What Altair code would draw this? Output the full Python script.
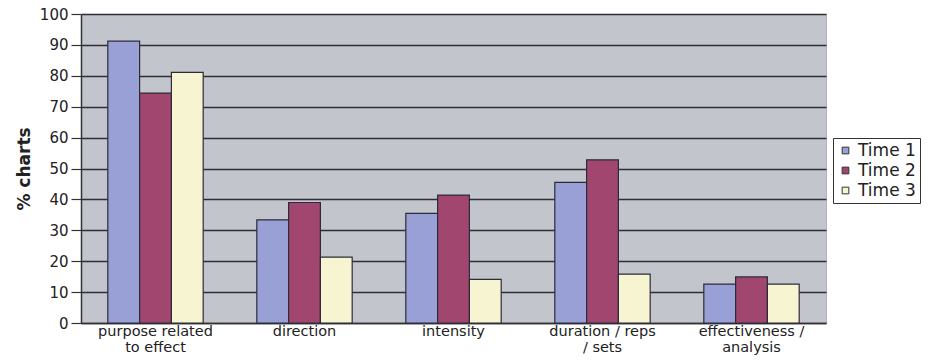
import altair as alt
import pandas as pd

categories = ["purpose related\nto effect", "direction", "intensity",
              "duration / reps\n/ sets", "effectiveness /\nanalysis"]
series = ["Time 1", "Time 2", "Time 3"]
time1 = [91.2, 33.4, 35.5, 45.5, 12.6]
time2 = [74.4, 39.0, 41.4, 52.8, 14.9]
time3 = [81.1, 21.3, 14.1, 15.8, 12.6]
colors = ["#98a0d5", "#a0466f", "#f7f4d2"]
y_ticks = [0, 10, 20, 30, 40, 50, 60, 70, 80, 90, 100]

rows = []
for cat, a, b, c in zip(categories, time1, time2, time3):
    for s, v in zip(series, (a, b, c)):
        rows.append({"category": cat, "series": s, "value": v})
df = pd.DataFrame(rows)

FONT = "DejaVu Sans"

bars = alt.Chart(df).mark_bar(stroke="#2b2b3a", strokeWidth=1.2).encode(
    x=alt.X("category:N", sort=categories,
            scale=alt.Scale(paddingInner=0.36, paddingOuter=0.18),
            axis=alt.Axis(title=None, labelAngle=0, labelFontSize=14.5, labelColor="#222",
                          labelFont=FONT, labelExpr="split(datum.value, '\\n')",
                          labelLineHeight=16, labelPadding=1, ticks=False,
                          labelOverlap=False, labelBaseline="top",
                          domainColor="#333", domainWidth=1.5, grid=False)),
    xOffset=alt.XOffset("series:N", sort=series, scale=alt.Scale(paddingInner=0, paddingOuter=0)),
    y=alt.Y("value:Q", scale=alt.Scale(domain=[0, 100], nice=False),
            axis=alt.Axis(title="% charts", values=y_ticks, titleFont=FONT, titleFontSize=17,
                          titleFontWeight="bold", titleColor="#222", titlePadding=6,
                          labelFont=FONT, labelFontSize=15, labelColor="#222",
                          tickSize=10, tickColor="#333", tickWidth=1.2,
                          domainColor="#333", domainWidth=1.5,
                          gridColor="#2e2e36", gridWidth=1.4, gridOpacity=1, labelPadding=3)),
    color=alt.Color("series:N", sort=series,
                    scale=alt.Scale(domain=series, range=colors),
                    legend=alt.Legend(title=None, orient="none", legendX=752, legendY=124,
                                      labelFont=FONT, labelFontSize=17, labelColor="#222",
                                      symbolType="square", symbolSize=45,
                                      symbolStrokeColor="#333", symbolStrokeWidth=1,
                                      rowPadding=2, padding=4, strokeColor="#333",
                                      fillColor="white", labelOffset=4)),
)

chart = bars.properties(
    width=745, height=309,
    autosize=alt.AutoSizeParams(type="none"),
    padding={"left": 81, "top": 14, "right": 112, "bottom": 37},
    background="white",
).configure_view(
    fill="#c2c6cc", stroke="#b0b3b8", strokeWidth=1,
)

chart.save("out.html", embed_options={"renderer": "svg", "actions": False})
